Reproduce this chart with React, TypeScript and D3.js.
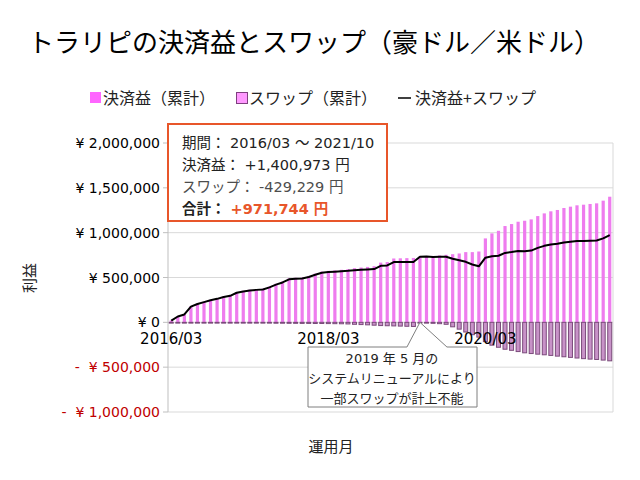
import * as d3 from "d3";

// months 2016/03 .. 2021/10
const months = [
  "2016/03", "2016/04", "2016/05", "2016/06", "2016/07", "2016/08", "2016/09", "2016/10", "2016/11", "2016/12",
  "2017/01", "2017/02", "2017/03", "2017/04", "2017/05", "2017/06", "2017/07", "2017/08", "2017/09", "2017/10", "2017/11", "2017/12",
  "2018/01", "2018/02", "2018/03", "2018/04", "2018/05", "2018/06", "2018/07", "2018/08", "2018/09", "2018/10", "2018/11", "2018/12",
  "2019/01", "2019/02", "2019/03", "2019/04", "2019/05", "2019/06", "2019/07", "2019/08", "2019/09", "2019/10", "2019/11", "2019/12",
  "2020/01", "2020/02", "2020/03", "2020/04", "2020/05", "2020/06", "2020/07", "2020/08", "2020/09", "2020/10", "2020/11", "2020/12",
  "2021/01", "2021/02", "2021/03", "2021/04", "2021/05", "2021/06", "2021/07", "2021/08", "2021/09", "2021/10",
];

// 決済益（累計）
const profit = [
  21000, 67000, 90000, 178000, 209000, 229000, 251000, 267000, 289000, 302000,
  337000, 352000, 364000, 370000, 376000, 399000, 430000, 455000, 491000, 497000,
  500000, 517000, 543000, 566000, 574000, 580000, 586000, 593000, 604000, 611000,
  618000, 626000, 666000, 672000, 712000, 714000, 716000, 718000,
  733000, 738000, 740000, 746000, 753000, 760000, 768000, 783000, 783000, 790000,
  936000, 992000, 1021000, 1074000, 1096000, 1122000, 1133000, 1148000, 1185000, 1215000,
  1238000, 1253000, 1275000, 1290000, 1305000, 1312000, 1320000, 1327000, 1357000, 1400973,
];

// スワップ（累計）
const swap = [
  -1000, -2000, -2000, -3000, -4000, -4000, -5000, -5000, -6000, -6000,
  -7000, -7000, -8000, -8000, -9000, -9000, -10000, -10000, -11000, -11000,
  -12000, -12000, -13000, -13000, -14000, -15000, -16000, -18000, -22000, -25000,
  -28000, -32000, -36000, -38000, -40000, -42000, -44000, -46000,
  -2000, -4000, -11000, -15000, -22000, -50000, -76000, -108000, -138000, -165000,
  -215000, -255000, -278000, -300000, -312000, -326000, -340000, -348000, -355000, -362000,
  -369000, -377000, -384000, -391000, -398000, -405000, -410000, -414000, -421000, -429229,
];

const xTickLabels = ["2016/03", "2018/03", "2020/03"];
const yTicks = [2000000, 1500000, 1000000, 500000, 0, -500000, -1000000];

const FONT = "'DejaVu Sans', 'Noto Sans CJK JP', sans-serif";
const JP = "'Noto Sans CJK JP', sans-serif";

export default function App() {
  const left = 168, right = 613, top = 143, bottom = 412;

  const x = d3.scaleBand<string>().domain(months).range([left, right]).paddingInner(0.5).paddingOuter(0.25);
  const y = d3.scaleLinear().domain([-1000000, 2000000]).range([bottom, top]);
  const cx = (m: string) => x(m)! + x.bandwidth() / 2;

  const total = months.map((m, i) => ({ m, v: profit[i] + swap[i] }));
  const line = d3.line<{ m: string; v: number }>().x(d => cx(d.m)).y(d => y(d.v));

  const fmt = d3.format(",");
  const yLabel = (v: number) => (v < 0 ? `-  ¥ ${fmt(-v)}` : `¥ ${fmt(v)}`);

  const grid = "#d9d9d9";
  const barW = 3.2;
  const swapW = 4;

  // callout pointer target: 2019/05
  const px = cx("2019/05");
  const py = y(0);

  return (
    <svg width={640} height={480} style={{ position: "absolute", left: 0, top: 0, background: "#fff" }}>
      <rect x={0} y={0} width={640} height={480} fill="#fff" />
      <text x={314} y={52} textAnchor="middle" fontFamily={JP} fontSize={26} fill="#000">
        トラリピの決済益とスワップ（豪ドル／米ドル）
      </text>

      {/* legend */}
      <g fontFamily={JP} fontSize={16} fill="#222">
        <rect x={90} y={92} width={11} height={11} fill="#ff66ff" />
        <text x={103} y={104}>決済益（累計）</text>
        <rect x={236.5} y={92.5} width={11} height={11} fill="#ff99ff" stroke="#7f3f7f" strokeWidth={1} />
        <text x={249} y={104}>スワップ（累計）</text>
        <line x1={398} x2={411} y1={98} y2={98} stroke="#000" strokeWidth={1.5} />
        <text x={415} y={104}>決済益+スワップ</text>
      </g>

      {/* grid */}
      {yTicks.map(t => (
        <line key={t} x1={left} x2={right} y1={y(t)} y2={y(t)} stroke={grid} strokeWidth={1} />
      ))}
      <line x1={right} x2={right} y1={top} y2={bottom} stroke={grid} />
      <line x1={left} x2={left} y1={top} y2={bottom} stroke="#bfbfbf" />
      {yTicks.map(t => (
        <line key={"tk" + t} x1={left - 5} x2={left} y1={y(t)} y2={y(t)} stroke="#bfbfbf" />
      ))}

      {/* y labels */}
      {yTicks.map(t => (
        <text key={"yl" + t} x={160} y={y(t) + 5} textAnchor="end" fontFamily={FONT} fontSize={14}
          fill={t < 0 ? "#c00000" : "#000"} style={{ whiteSpace: "pre" }}>
          {yLabel(t)}
        </text>
      ))}
      <text transform={`translate(35,278) rotate(-90)`} textAnchor="middle" fontFamily={JP} fontSize={15} fill="#222">
        利益
      </text>

      {/* profit bars */}
      {months.map((m, i) => (
        <rect key={"p" + m} x={cx(m) - barW / 2} y={y(profit[i])} width={barW} height={y(0) - y(profit[i])} fill="#ee7cee" />
      ))}
      {/* swap bars */}
      {months.map((m, i) => (
        <rect key={"s" + m} x={cx(m) - swapW / 2} y={y(0)} width={swapW} height={Math.max(0.8, y(swap[i]) - y(0))}
          fill="#c892c8" stroke="#7b4b7b" strokeWidth={1} />
      ))}

      {/* total line */}
      <path d={line(total)!} fill="none" stroke="#000" strokeWidth={2} strokeLinejoin="round" />

      {/* x labels */}
      {xTickLabels.map(l => (
        <text key={l} x={cx(l)} y={344} textAnchor="middle" fontFamily={FONT} fontSize={15} fill="#000">
          {l}
        </text>
      ))}
      <text x={331} y={452} textAnchor="middle" fontFamily={JP} fontSize={15} fill="#222">
        運用月
      </text>

      {/* summary box */}
      <rect x={168} y={124} width={219} height={97} fill="#fff" stroke="#e8562a" strokeWidth={2} />
      <g fontFamily={FONT} fontSize={14.5}>
        <text x={182} y={148} fill="#222">期間： 2016/03 ～ 2021/10</text>
        <text x={182} y={170} fill="#222">決済益： +1,400,973 円</text>
        <text x={182} y={192} fill="#4d4d4d">スワップ： -429,229 円</text>
        <text x={182} y={214} fontWeight="bold" fill="#222">
          合計：{" "}
          <tspan fill="#e8562a">+971,744 円</tspan>
        </text>
      </g>

      {/* callout */}
      <path
        d={`M308,347 L${px - 13},347 L${px},${py} L${px + 27},347 L477,347 L477,407 L308,407 Z`}
        fill="#fff" stroke="#7f7f7f" strokeWidth={1}
      />
      <g fontFamily={FONT} fontSize={13} textAnchor="middle" fill="#222">
        <text x={392} y={363}>2019 年 5 月の</text>
        <text x={392} y={383}>システムリニューアルにより</text>
        <text x={392} y={403}>一部スワップが計上不能</text>
      </g>
    </svg>
  );
}
